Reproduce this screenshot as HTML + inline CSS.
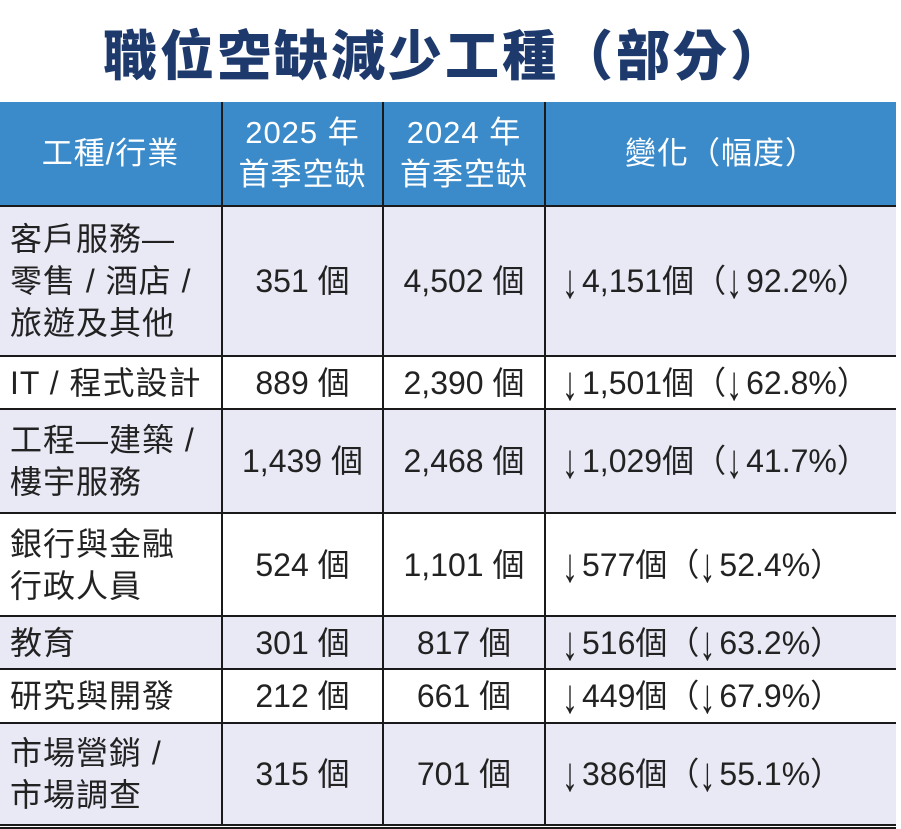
<!DOCTYPE html>
<html><head><meta charset="utf-8"><style>
body{margin:0;width:901px;height:829px;background:#fff;overflow:hidden;font-family:"Liberation Sans","Noto Sans CJK TC",sans-serif;}
.t{position:absolute;left:0;top:12px;width:890px;text-align:center;font-size:54px;font-weight:900;color:#1e3a6d;letter-spacing:3px;font-family:"Noto Sans CJK TC",sans-serif;line-height:80px;}
table{position:absolute;left:0;top:102px;width:896px;border-collapse:collapse;table-layout:fixed;font-size:32px;color:#222;}
td{border:2px solid #1a1a1a;padding:0;text-align:center;line-height:42px;white-space:nowrap;overflow:hidden;}
td:first-child{border-left:none;text-align:left;padding-left:10px;letter-spacing:1px;}
td:last-child{border-right:none;text-align:left;padding-left:16px;font-size:32px;}
tr.h td{background:#3b8bcb;color:#fff;border-top:none;font-size:31px;letter-spacing:1px;}
tr.h td:first-child{text-align:center;padding-left:0}
tr.h td:last-child{text-align:center;padding-left:0;font-size:31px;letter-spacing:1px;}
tr.a td{background:#e9e9f5;}
tr.last td{border-bottom:5px double #1a1a1a;}
.ar{display:inline-block;transform:scaleY(1.5);margin-right:4px;}
</style></head><body>
<div class="t">職位空缺減少工種（部分）</div>
<table>
<colgroup><col style="width:222px"><col style="width:161px"><col style="width:162px"><col style="width:351px"></colgroup>
<tr class="h" style="height:104px"><td>工種/行業</td><td>2025 年<br>首季空缺</td><td>2024 年<br>首季空缺</td><td>變化（幅度）</td></tr>
<tr class="a" style="height:150px"><td>客戶服務—<br>零售 / 酒店 /<br>旅遊及其他</td><td>351 個</td><td>4,502 個</td><td><span class="ar">↓</span>4,151個（<span class="ar">↓</span>92.2%）</td></tr>
<tr style="height:53px"><td>IT / 程式設計</td><td>889 個</td><td>2,390 個</td><td><span class="ar">↓</span>1,501個（<span class="ar">↓</span>62.8%）</td></tr>
<tr class="a" style="height:104px"><td>工程—建築 /<br>樓宇服務</td><td>1,439 個</td><td>2,468 個</td><td><span class="ar">↓</span>1,029個（<span class="ar">↓</span>41.7%）</td></tr>
<tr style="height:103px"><td>銀行與金融<br>行政人員</td><td>524 個</td><td>1,101 個</td><td><span class="ar">↓</span>577個（<span class="ar">↓</span>52.4%）</td></tr>
<tr class="a" style="height:53px"><td>教育</td><td>301 個</td><td>817 個</td><td><span class="ar">↓</span>516個（<span class="ar">↓</span>63.2%）</td></tr>
<tr style="height:54px"><td>研究與開發</td><td>212 個</td><td>661 個</td><td><span class="ar">↓</span>449個（<span class="ar">↓</span>67.9%）</td></tr>
<tr class="a last" style="height:103px"><td>市場營銷 /<br>市場調查</td><td>315 個</td><td>701 個</td><td><span class="ar">↓</span>386個（<span class="ar">↓</span>55.1%）</td></tr>
</table>
</body></html>
